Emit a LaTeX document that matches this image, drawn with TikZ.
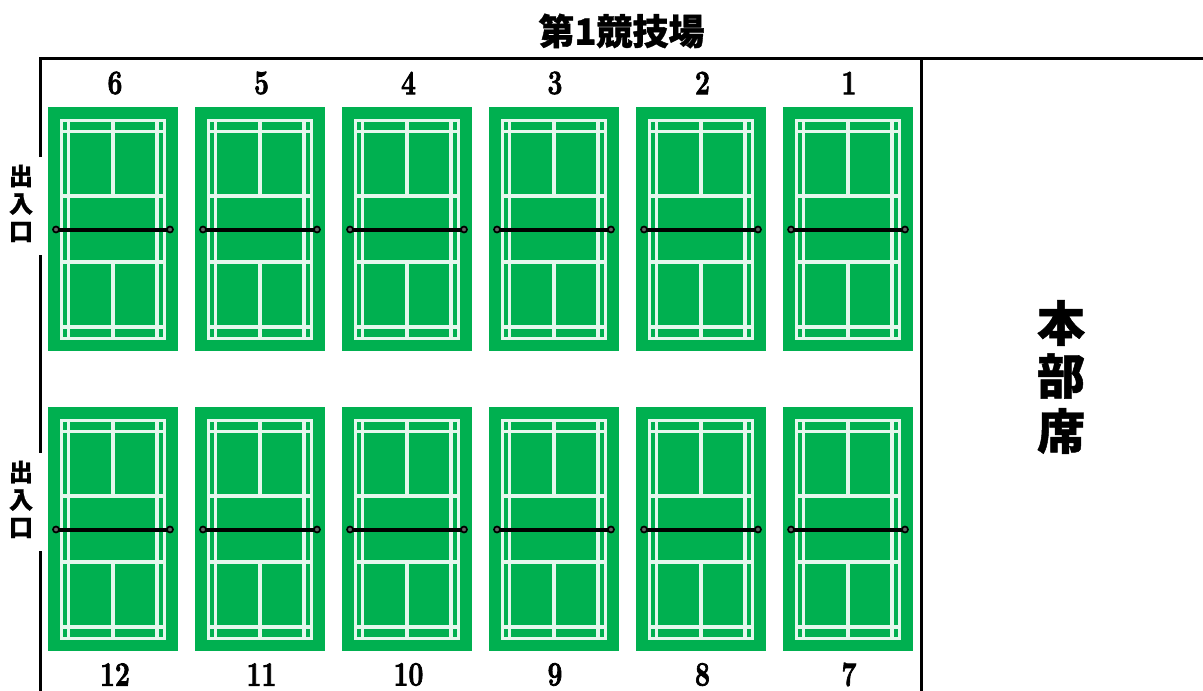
\documentclass[tikz,border=0pt]{standalone}
\usepackage{fontspec}
\newfontfamily\cjkheavy[FakeBold=1.0]{Noto Sans CJK JP Black}
\newfontfamily\numfont[BoldFeatures={FakeBold=2.5}]{Latin Modern Roman}
\definecolor{courtgreen}{RGB}{0,176,80}
\definecolor{netpost}{RGB}{100,100,100}
\tikzset{
  wall/.style={line width=3pt,black},
  courtline/.style={line width=3.05pt,white!90!courtgreen,line cap=butt},
  netline/.style={line width=4pt,black},
  netend/.style={line width=1.7pt,black,fill=netpost},
  num/.style={font=\numfont\bfseries\fontsize{34}{34}\selectfont,xscale=.78,transform shape,inner sep=0pt,anchor=center},
  titletext/.style={font=\cjkheavy\fontsize{36}{36}\selectfont,inner sep=0pt},
  doortext/.style={font=\cjkheavy\fontsize{24}{24}\selectfont,inner sep=0pt},
  hqtext/.style={font=\cjkheavy\fontsize{48}{48}\selectfont,inner sep=0pt}
}
\newcommand{\drawcourt}[2]{%
  \begin{scope}[shift={(#1,#2)}]
    \fill[courtgreen] (0,0) rectangle (130,244);
    \draw[courtline] (13.5,13.5) rectangle (116.5,231.5);
    \draw[courtline] (20.5,13.5) -- (20.5,231.5);
    \draw[courtline] (109,13.5) -- (109,231.5);
    \draw[courtline] (13.5,24.5) -- (116.5,24.5);
    \draw[courtline] (13.5,220) -- (116.5,220);
    \draw[courtline] (13.5,89) -- (116.5,89);
    \draw[courtline] (13.5,155) -- (116.5,155);
    \draw[courtline] (65,13.5) -- (65,89);
    \draw[courtline] (65,155) -- (65,231.5);
    \draw[netline] (8,122.5) -- (122,122.5);
    \draw[netend] (8,122.5) circle (3);
    \draw[netend] (122,122.5) circle (3);
  \end{scope}}
\begin{document}
\begin{tikzpicture}[x=1pt,y=-1pt]
  \useasboundingbox (0,0) rectangle (1203,691);
  \draw[wall] (40,157) -- (40,58) -- (1203,58);
  \coordinate (a) at (40,255);
  \coordinate (b) at (40,453);
  \draw[wall] (a) -- (b);
  \draw[wall] (40,551) -- (40,691);
  \draw[wall] (921,58) -- (921,691);
  \foreach \i in {0,...,5} {
    \pgfmathsetmacro{\cx}{48+147*\i}
    \drawcourt{\cx}{107}
    \drawcourt{\cx}{407}
  }
  \node[titletext] (title) at (621.5,31) {第1競技場};
  \foreach \t/\x in {6/115,5/261.5,4/408.5,3/555,2/702.5,1/849} {
    \node[num] (top\t) at (\x,83) {\t};
  }
  \foreach \t/\x in {12/115,11/261.5,10/408.5,9/555,8/702.5,7/849} {
    \node[num] (bot\t) at (\x,674.5) {\t};
  }
  \node[doortext] (d1a) at (21,176) {出};
  \node[doortext] (d1b) at (21,204) {入};
  \node[doortext] (d1c) at (21,232) {口};
  \node[doortext] (d2a) at (21,472) {出};
  \node[doortext] (d2b) at (21,500) {入};
  \node[doortext] (d2c) at (21,528) {口};
  \node[hqtext] (h1) at (1061,323) {本};
  \node[hqtext] (h2) at (1061,376) {部};
  \node[hqtext] (h3) at (1061,431) {席};
\end{tikzpicture}
\end{document}
